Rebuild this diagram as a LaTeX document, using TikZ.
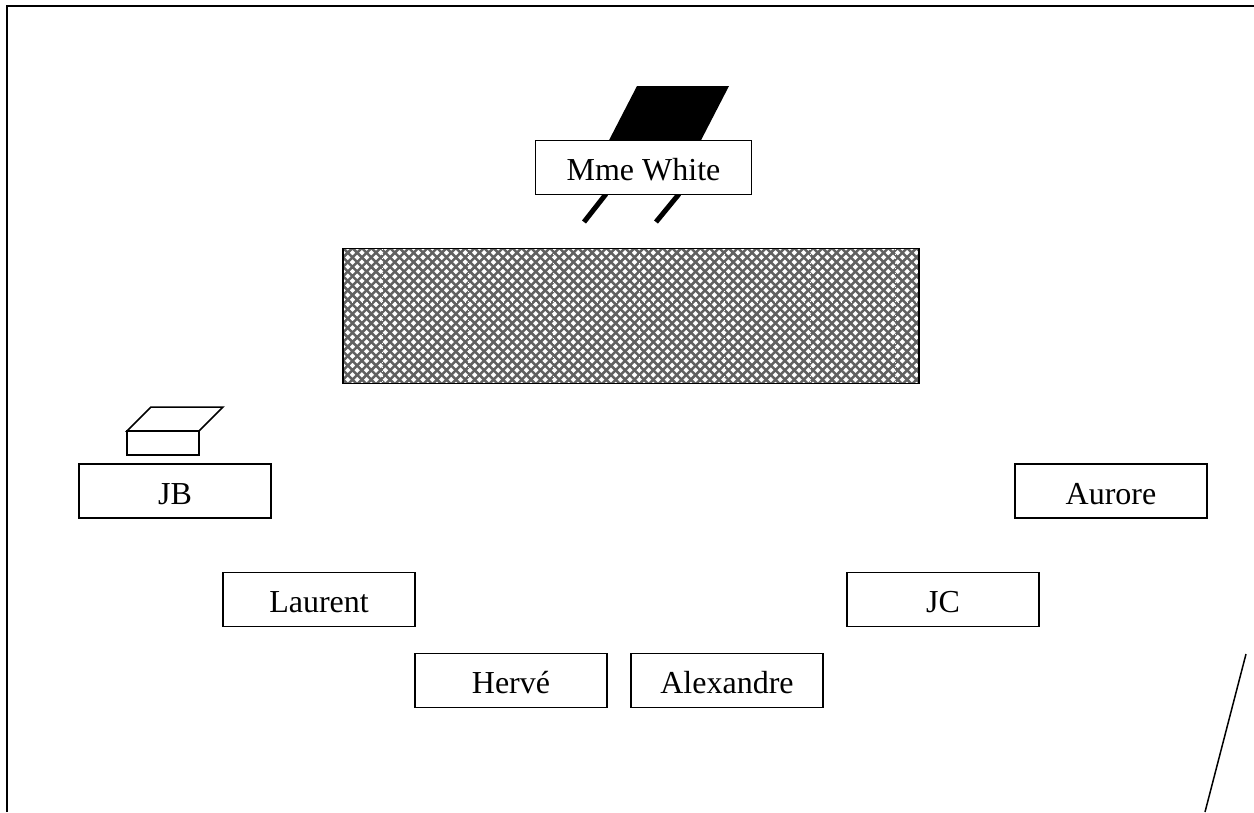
\documentclass[tikz,border=0pt]{standalone}
\usepackage{fontspec}
\setmainfont{Liberation Serif}
\usetikzlibrary{patterns}
\pgfdeclarepatternformonly{knit}{\pgfqpoint{-2pt}{-2pt}}{\pgfqpoint{11.4pt}{11.4pt}}{\pgfqpoint{9.4pt}{9.4pt}}{%
  \pgfsetlinewidth{2.5pt}
  \pgfpathmoveto{\pgfqpoint{0pt}{4.7pt}}\pgfpathlineto{\pgfqpoint{4.7pt}{0pt}}
  \pgfpathlineto{\pgfqpoint{9.4pt}{4.7pt}}\pgfpathlineto{\pgfqpoint{4.7pt}{9.4pt}}\pgfpathclose
  \pgfusepath{stroke}}
\tikzset{
  px/.style={x=1pt,y=-1pt},
  seat/.style={draw=black,line width=1.5pt,fill=white,minimum width=192pt,minimum height=54pt,inner sep=0pt,text height=26.5pt,text depth=0pt,font=\fontsize{32}{36}\selectfont,text=black},
  ink/.style={draw=black,line width=1.5pt,line join=miter},
  seam/.style={draw=white,line width=0.6pt,dash pattern=on 1pt off 3.7pt},
}
\begin{document}
\begin{tikzpicture}[px]
\useasboundingbox (0,0) rectangle (1254,812);
\draw[line width=2.4pt] (7,812) -- (7,6) -- (1254,6);
\fill[black] (637,86) -- (729,86) -- (697,148) -- (605,148) -- cycle;
\coordinate (l1a) at (606,194); \coordinate (l1b) at (584,222);
\coordinate (l2a) at (679,194); \coordinate (l2b) at (656,222);
\draw[line width=5pt] (l1a) -- (l1b);
\draw[line width=5pt] (l2a) -- (l2b);
\node[seat,minimum width=216pt] (white) at (643.5,167.5) {Mme White};
\node[fill=white,pattern=knit,pattern color=black!62,minimum width=576pt,minimum height=135pt,inner sep=0pt] (boardfill) at (631,316) {};
\foreach \sx in {382.5,468,553.5,639,724.5,810,895.5}
  \draw[seam] (\sx,249) -- (\sx,383);
\draw[seam] (343,302) -- (919,302);
\node[draw=black,line width=1.5pt,minimum width=576pt,minimum height=135pt,inner sep=0pt] (board) at (631,316) {};
\draw[ink] (127,431) -- (151,407) -- (223,407) -- (199,431) -- cycle;
\draw[ink] (127,431) rectangle (199,455);
\node[seat] (jb) at (175,491) {JB};
\node[seat] (aurore) at (1111,491) {Aurore};
\node[seat] (laurent) at (319,599.5) {Laurent};
\node[seat] (jc) at (943,599.5) {JC};
\node[seat] (herve) at (511,680.5) {Hervé};
\node[seat] (alex) at (727,680.5) {Alexandre};
\draw[line width=1.5pt] (1246,654) -- (1205,812);
\end{tikzpicture}
\end{document}
